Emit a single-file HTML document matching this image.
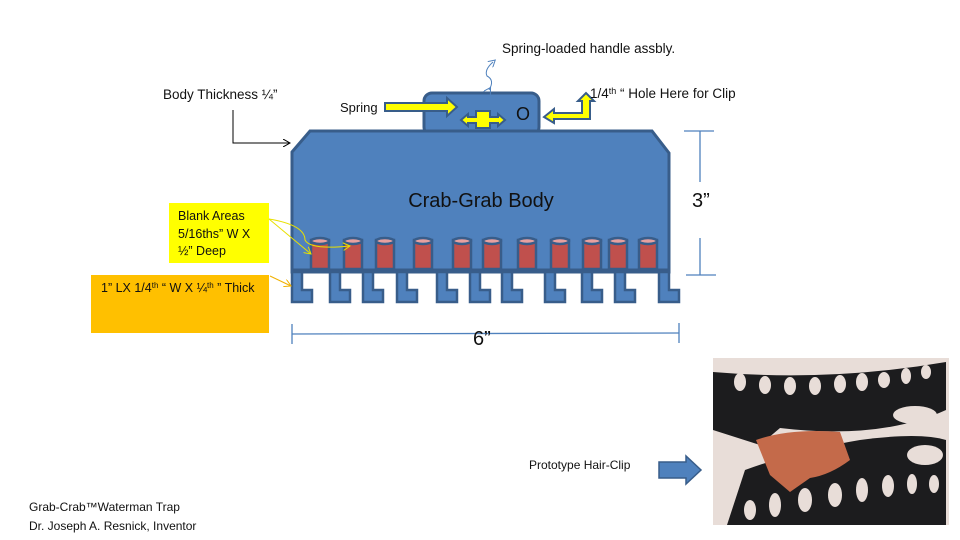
<!DOCTYPE html>
<html><head><meta charset="utf-8"><style>
body{margin:0;background:#fff;}
svg{display:block;font-family:"Liberation Sans",sans-serif;}
</style></head><body>
<svg width="960" height="540" viewBox="0 0 960 540" xmlns="http://www.w3.org/2000/svg">
<defs>
<marker id="ab" markerWidth="8" markerHeight="8" refX="7" refY="4" orient="auto"><path d="M0,0 L7,4 L0,8" fill="none" stroke="#000" stroke-width="1"/></marker>
<marker id="ay" markerWidth="8" markerHeight="8" refX="7" refY="4" orient="auto"><path d="M0,0 L7,4 L0,8" fill="none" stroke="#e8e000" stroke-width="1"/></marker>
<marker id="ao" markerWidth="8" markerHeight="8" refX="7" refY="4" orient="auto"><path d="M0,0 L7,4 L0,8" fill="none" stroke="#f0b000" stroke-width="1"/></marker>
<marker id="abl" markerWidth="8" markerHeight="8" refX="4" refY="4" orient="auto"><path d="M0,0 L7,4 L0,8" fill="none" stroke="#4f81bd" stroke-width="1"/></marker>
</defs>

<rect x="424" y="93" width="115" height="42" rx="8" fill="#4f81bd" stroke="#385d8a" stroke-width="3"/>
<path d="M292,152 L310,131 L652,131 L669,153 L669,272 L292,272 Z" fill="#4f81bd" stroke="#385d8a" stroke-width="3"/>
<line x1="292" y1="270" x2="669" y2="270" stroke="#385d8a" stroke-width="3"/>
<g fill="#4f81bd" stroke="#385d8a" stroke-width="2.5">
<path d="M292,272 h10 v18 h10 v12 h-20 Z"/>
<path d="M330,272 h10 v18 h10 v12 h-20 Z"/>
<path d="M363,272 h10 v18 h10 v12 h-20 Z"/>
<path d="M397,272 h10 v18 h10 v12 h-20 Z"/>
<path d="M437,272 h10 v18 h10 v12 h-20 Z"/>
<path d="M470,272 h10 v18 h10 v12 h-20 Z"/>
<path d="M502,272 h10 v18 h10 v12 h-20 Z"/>
<path d="M545,272 h10 v18 h10 v12 h-20 Z"/>
<path d="M582,272 h10 v18 h10 v12 h-20 Z"/>
<path d="M615,272 h10 v18 h10 v12 h-20 Z"/>
<path d="M659,272 h10 v18 h10 v12 h-20 Z"/>
</g>
<g stroke="#385d8a" stroke-width="2.5" fill="#c0504d">
<rect x="311" y="240" width="18" height="29"/><ellipse cx="320" cy="241" rx="9" ry="3" fill="#e6a0a0"/>
<rect x="344" y="240" width="18" height="29"/><ellipse cx="353" cy="241" rx="9" ry="3" fill="#e6a0a0"/>
<rect x="376" y="240" width="18" height="29"/><ellipse cx="385" cy="241" rx="9" ry="3" fill="#e6a0a0"/>
<rect x="414" y="240" width="18" height="29"/><ellipse cx="423" cy="241" rx="9" ry="3" fill="#e6a0a0"/>
<rect x="453" y="240" width="18" height="29"/><ellipse cx="462" cy="241" rx="9" ry="3" fill="#e6a0a0"/>
<rect x="483" y="240" width="18" height="29"/><ellipse cx="492" cy="241" rx="9" ry="3" fill="#e6a0a0"/>
<rect x="518" y="240" width="18" height="29"/><ellipse cx="527" cy="241" rx="9" ry="3" fill="#e6a0a0"/>
<rect x="551" y="240" width="18" height="29"/><ellipse cx="560" cy="241" rx="9" ry="3" fill="#e6a0a0"/>
<rect x="583" y="240" width="18" height="29"/><ellipse cx="592" cy="241" rx="9" ry="3" fill="#e6a0a0"/>
<rect x="609" y="240" width="18" height="29"/><ellipse cx="618" cy="241" rx="9" ry="3" fill="#e6a0a0"/>
<rect x="639" y="240" width="18" height="29"/><ellipse cx="648" cy="241" rx="9" ry="3" fill="#e6a0a0"/>
</g>
<text x="481" y="207" font-size="20" text-anchor="middle" fill="#111">Crab-Grab Body</text>
<text x="516" y="120" font-size="18" fill="#111">O</text>

<path d="M385,103 h62 v-5 l10,9 l-10,9 v-5 h-62 Z" fill="#ffff00" stroke="#385d8a" stroke-width="2"/>
<path d="M461,120 l7,-6 v3 h8 v-6 h14 v6 h8 v-3 l7,6 l-7,6 v-3 h-8 v5 h-14 v-5 h-8 v3 Z" fill="#ffff00" stroke="#385d8a" stroke-width="2"/>
<path d="M544,117 l10,-8 v4 h28 v-12 h-4 l8,-8 l8,8 h-4 v18 h-36 v4 Z" fill="#ffff00" stroke="#385d8a" stroke-width="2"/>

<text x="340" y="112" font-size="13" fill="#111">Spring</text>
<text x="590" y="98" font-size="13.5" fill="#111">1/4<tspan font-size="9" dy="-4">th</tspan><tspan dy="4"> “ Hole Here for  Clip</tspan></text>
<text x="502" y="53" font-size="13.5" fill="#111">Spring-loaded handle assbly.</text>
<path d="M489,90 q6,-10 -2,-14 q-3,-6 6,-14" fill="none" stroke="#4f81bd" stroke-width="1" marker-end="url(#abl)" marker-start="url(#abl)"/>

<text x="163" y="99" font-size="13.5" fill="#111">Body Thickness ¼”</text>
<path d="M233,110 V143 H290" fill="none" stroke="#000" stroke-width="1" marker-end="url(#ab)"/>

<g stroke="#4f81bd" stroke-width="1.3"><line x1="684" y1="131" x2="714" y2="131"/><line x1="686" y1="275" x2="716" y2="275"/><line x1="700" y1="131" x2="700" y2="182"/><line x1="700" y1="238" x2="700" y2="275"/>
<line x1="292" y1="334" x2="679" y2="333"/><line x1="292" y1="324" x2="292" y2="344"/><line x1="679" y1="323" x2="679" y2="343"/></g>
<text x="692" y="207" font-size="20" fill="#111">3”</text>
<text x="473" y="345" font-size="20" fill="#111">6”</text>

<rect x="169" y="203" width="100" height="60" fill="#ffff00"/>
<text font-size="12.5" fill="#111"><tspan x="178" y="220">Blank Areas</tspan><tspan x="178" y="238">5/16ths” W X</tspan><tspan x="178" y="255">½” Deep</tspan></text>
<path d="M269,219 Q305,225 305,240 Q310,250 350,246" fill="none" stroke="#e8e000" stroke-width="1" marker-end="url(#ay)"/>
<path d="M269,219 L311,254" fill="none" stroke="#e8e000" stroke-width="1" marker-end="url(#ay)"/>
<rect x="91" y="275" width="178" height="58" fill="#ffc000"/>
<text x="101" y="292" font-size="12.5" fill="#111">1” LX 1/4<tspan font-size="8" dy="-4">th</tspan><tspan dy="4"> “ W X ¼</tspan><tspan font-size="8" dy="-4">th</tspan><tspan dy="4"> ” Thick</tspan></text>
<path d="M270,276 L291,286" fill="none" stroke="#f0b000" stroke-width="1" marker-end="url(#ao)"/>

<g>
<rect x="713" y="358" width="236" height="167" fill="#e8ddd8"/>
<path d="M713,372 Q830,382 946,362 L946,410 Q880,440 780,428 L760,445 L713,430 Z" fill="#1c1c1e"/>
<path d="M727,525 L745,470 Q800,450 860,440 Q920,432 946,440 L946,525 Z" fill="#1c1c1e"/>
<g fill="#e8ddd8">
<ellipse cx="740" cy="382" rx="6" ry="9"/><ellipse cx="765" cy="385" rx="6" ry="9"/><ellipse cx="790" cy="386" rx="6" ry="9"/><ellipse cx="815" cy="386" rx="6" ry="9"/><ellipse cx="840" cy="384" rx="6" ry="9"/><ellipse cx="862" cy="382" rx="6" ry="9"/><ellipse cx="884" cy="380" rx="6" ry="8"/><ellipse cx="906" cy="376" rx="5" ry="8"/><ellipse cx="926" cy="372" rx="5" ry="7"/>
<ellipse cx="750" cy="510" rx="6" ry="10"/><ellipse cx="775" cy="505" rx="6" ry="12"/><ellipse cx="805" cy="500" rx="7" ry="12"/><ellipse cx="835" cy="495" rx="7" ry="12"/><ellipse cx="862" cy="490" rx="6" ry="12"/><ellipse cx="888" cy="486" rx="6" ry="11"/><ellipse cx="912" cy="484" rx="5" ry="10"/><ellipse cx="934" cy="484" rx="5" ry="9"/>
<ellipse cx="915" cy="415" rx="22" ry="9"/><ellipse cx="925" cy="455" rx="18" ry="10"/>
</g>
<path d="M756,440 Q790,428 840,432 L850,460 Q830,475 810,478 L790,492 L770,475 Z" fill="#c46a4a"/>
</g>
<text x="529" y="469" font-size="12" fill="#111">Prototype Hair-Clip</text>
<path d="M659,462 h27 v-6 l15,14 l-15,14 v-6 h-27 Z" fill="#4f81bd" stroke="#385d8a" stroke-width="1.5"/>

<text font-size="12" fill="#111"><tspan x="29" y="511">Grab-Crab™Waterman Trap</tspan><tspan x="29" y="530">Dr. Joseph A. Resnick, Inventor</tspan></text>
</svg>
</body></html>
